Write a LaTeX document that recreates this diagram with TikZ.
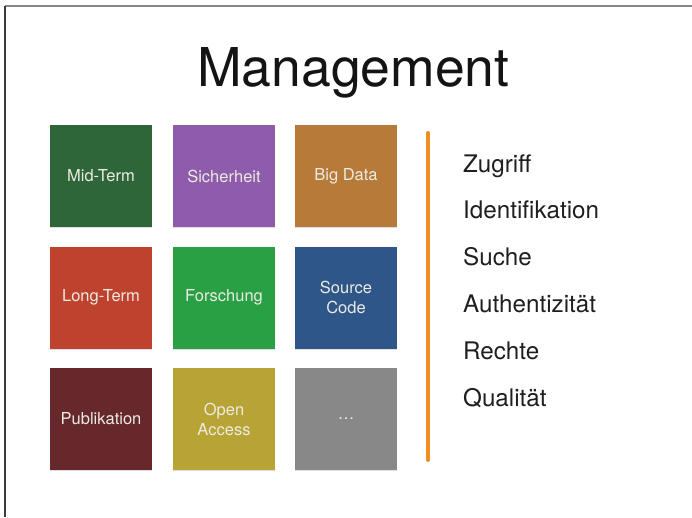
\documentclass[tikz,border=0pt]{standalone}
\usepackage{fontspec}
\setmainfont{TeX Gyre Heros}
\usetikzlibrary{shadows}
\definecolor{cMid}{RGB}{46,102,58}
\definecolor{cSich}{RGB}{142,92,170}
\definecolor{cBig}{RGB}{184,122,56}
\definecolor{cLong}{RGB}{190,66,46}
\definecolor{cFor}{RGB}{42,160,68}
\definecolor{cSrc}{RGB}{46,86,136}
\definecolor{cPub}{RGB}{102,40,42}
\definecolor{cOpen}{RGB}{184,164,52}
\definecolor{cDots}{RGB}{136,136,136}
\definecolor{cOrange}{RGB}{242,142,32}
\definecolor{cTop}{RGB}{135,135,135}
\definecolor{cLeft}{RGB}{60,60,60}
\definecolor{cTxt}{RGB}{235,235,228}
\begin{document}
\begin{tikzpicture}[x=1pt,y=-1pt,
  tile/.style={minimum width=102pt,minimum height=102pt,inner sep=0pt,align=center,
    text=cTxt,font=\fontsize{16.5}{20}\selectfont,
    drop shadow={shadow xshift=0pt,shadow yshift=-1pt,opacity=0.25}},
  item/.style={anchor=base west,inner sep=0pt,font=\fontsize{24.2}{28}\selectfont,text=black!88}]
\useasboundingbox (0,0) rectangle (692,517);
\fill[white] (0,0) rectangle (692,517);
% frame
\coordinate (tl) at (5,6);
\coordinate (tr) at (692,6);
\coordinate (bl) at (5,517);
\draw[cTop,line width=2pt] (tl) -- (tr);
\draw[cLeft,line width=2pt] (tl) -- (bl);
% title
\node[anchor=base,inner sep=0pt,font=\fontsize{53.5}{60}\selectfont,text=black!92] (title) at (353.5,86) {Management};
% tiles
\node[tile,fill=cMid]  (t11) at (101,176) {Mid-Term};
\node[tile,fill=cSich] (t12) at (224,176) {Sicherheit};
\node[tile,fill=cBig]  (t13) at (346,176) {Big Data};
\node[tile,fill=cLong] (t21) at (101,297.5) {Long-Term};
\node[tile,fill=cFor]  (t22) at (224,297.5) {Forschung};
\node[tile,fill=cSrc]  (t23) at (346,297.5) {Source\\Code};
\node[tile,fill=cPub]  (t31) at (101,419) {Publikation};
\node[tile,fill=cOpen] (t32) at (224,419) {Open\\Access};
\node[tile,fill=cDots] (t33) at (346,419) {\ldots};
% orange bar
\coordinate (bartop) at (428,133);
\coordinate (barbot) at (428,460);
\draw[cOrange,line width=4pt,line cap=round] (bartop) -- (barbot);
% list
\node[item] (i1) at (463,172) {Zugriff};
\node[item] (i2) at (463,218.5) {Identifikation};
\node[item] (i3) at (463,265) {Suche};
\node[item] (i4) at (463,312) {Authentizität};
\node[item] (i5) at (463,359) {Rechte};
\node[item] (i6) at (463,406) {Qualität};
\end{tikzpicture}
\end{document}
